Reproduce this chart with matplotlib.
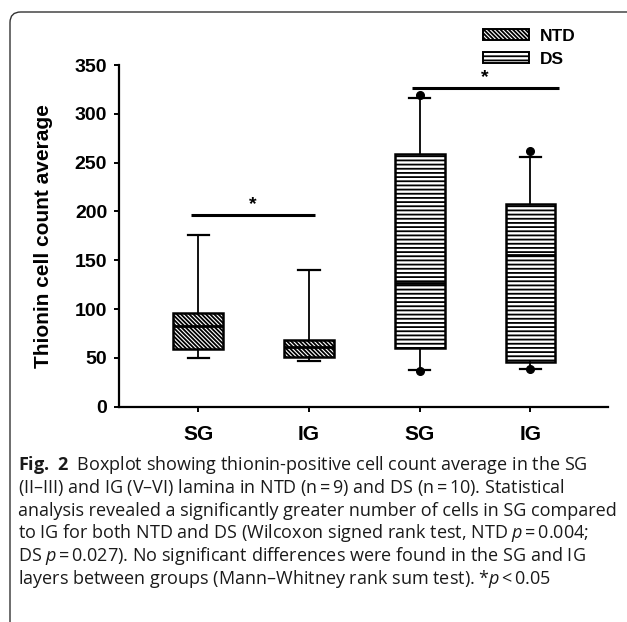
import numpy as np
import matplotlib
matplotlib.use("Agg")
import matplotlib.pyplot as plt
from matplotlib.patches import Patch, FancyBboxPatch

# box statistics read per group (10th/25th/50th/75th/90th + outlying points)
labels = ["SG", "IG", "SG", "IG"]
groups = ["NTD", "NTD", "DS", "DS"]
q1 = [59.0, 50.6, 59.8, 45.8]
med = [83.0, 61.0, 127.0, 155.0]
q3 = [95.7, 68.5, 259.0, 208.0]
whis_lo = [50.2, 46.8, 37.6, 39.0]
whis_hi = [176.0, 139.6, 316.5, 256.0]
outliers = [[], [], [318.8, 36.6], [261.7, 38.6]]

# significance brackets: (x start, x end, height)
sig_bars = [(0.934, 2.053, 195.9), (2.927, 4.254, 326.3)]

yticks = [0, 50, 100, 150, 200, 250, 300, 350]

caption = [
    r"$\mathbf{Fig.\ 2}$  Boxplot showing thionin-positive cell count average in the SG",
    r"(II–III) and IG (V–VI) lamina in NTD (n$\,$=$\,$9) and DS (n$\,$=$\,$10). Statistical",
    r"analysis revealed a significantly greater number of cells in SG compared",
    r"to IG for both NTD and DS (Wilcoxon signed rank test, NTD $\mathit{p}\,$=$\,$0.004;",
    r"DS $\mathit{p}\,$=$\,$0.027). No significant differences were found in the SG and IG",
    r"layers between groups (Mann–Whitney rank sum test). *$\mathit{p}\,$<$\,$0.05",
]

hatches = {"NTD": "\\" * 8, "DS": "-" * 4}

plt.rcParams["font.family"] = ["Liberation Sans", "DejaVu Sans"]
plt.rcParams["hatch.linewidth"] = 1.3
plt.rcParams["mathtext.fontset"] = "custom"
plt.rcParams["mathtext.rm"] = "Open Sans"
plt.rcParams["mathtext.it"] = "Open Sans:italic"
plt.rcParams["mathtext.bf"] = "Open Sans:bold"

W, H = 627, 622
fig = plt.figure(figsize=(W / 100, H / 100), dpi=100)
ax = fig.add_axes([119 / W, 1 - 406.7 / H, (608 - 119) / W, (406.7 - 65) / H])

stats = []
for i in range(len(labels)):
    stats.append(dict(med=med[i], q1=q1[i], q3=q3[i], whislo=whis_lo[i],
                      whishi=whis_hi[i], fliers=np.array(outliers[i])))

positions = np.arange(1, len(labels) + 1)
bp = ax.bxp(stats, positions=positions, widths=0.45, capwidths=0.19,
            patch_artist=True, showfliers=True,
            boxprops=dict(facecolor="white", edgecolor="black", linewidth=1.8),
            medianprops=dict(color="black", linewidth=2.0),
            whiskerprops=dict(color="black", linewidth=1.3),
            capprops=dict(color="black", linewidth=1.6),
            flierprops=dict(marker="o", markerfacecolor="black",
                            markeredgecolor="black", markersize=5.5))
for box, g in zip(bp["boxes"], groups):
    box.set_hatch(hatches[g])

for x0, x1, y in sig_bars:
    ax.plot([x0, x1], [y, y], color="black", lw=2.2, solid_capstyle="butt")
    ax.text((x0 + x1) / 2, y + 2, "*", ha="center", va="bottom",
            fontsize=14, fontweight="bold")

ax.set_xlim(0.284, 4.70)
ax.set_ylim(0, 350)
ax.set_yticks(yticks)
ax.set_xticks(positions)
ax.set_xticklabels(labels, fontweight="bold")
for t in ax.get_yticklabels():
    t.set_fontweight("bold")
for s in ["top", "right"]:
    ax.spines[s].set_visible(False)
for s in ["left", "bottom"]:
    ax.spines[s].set_linewidth(1.6)
ax.tick_params(axis="y", length=3.5, width=1.4, pad=5, labelsize=14)
ax.tick_params(axis="x", length=3.5, width=1.4, pad=10, labelsize=15)
ax.set_ylabel("Thionin cell count average", fontsize=15, fontweight="bold")
ax.yaxis.set_label_coords(-0.135, 0.5)

handles = [Patch(facecolor="white", edgecolor="black", hatch=hatches[g], lw=1.4, label=g)
           for g in ["NTD", "DS"]]
fig.legend(handles=handles, loc="upper left", bbox_to_anchor=(483 / W, 1 - 29 / H),
           frameon=False, handlelength=2.65, handleheight=0.6,
           handletextpad=0.6, labelspacing=0.45, borderpad=0, borderaxespad=0,
           prop=dict(weight="bold", size=12.5))

# panel frame with a rounded top-left corner
frame = FancyBboxPatch((10 / W, -0.2), 2, 1.2 - 12 / H,
                       boxstyle="round,pad=0,rounding_size=0.017",
                       transform=fig.transFigure, fill=False, lw=1.0, ec="#333333")
fig.patches.append(frame)

for k, line in enumerate(caption):
    fig.text(18 / W, 1 - (470 + k * 22.8) / H, line, ha="left", va="baseline",
             fontsize=13, family="Open Sans", color="#1a1a1a")

fig.savefig("out.png", dpi=100)
